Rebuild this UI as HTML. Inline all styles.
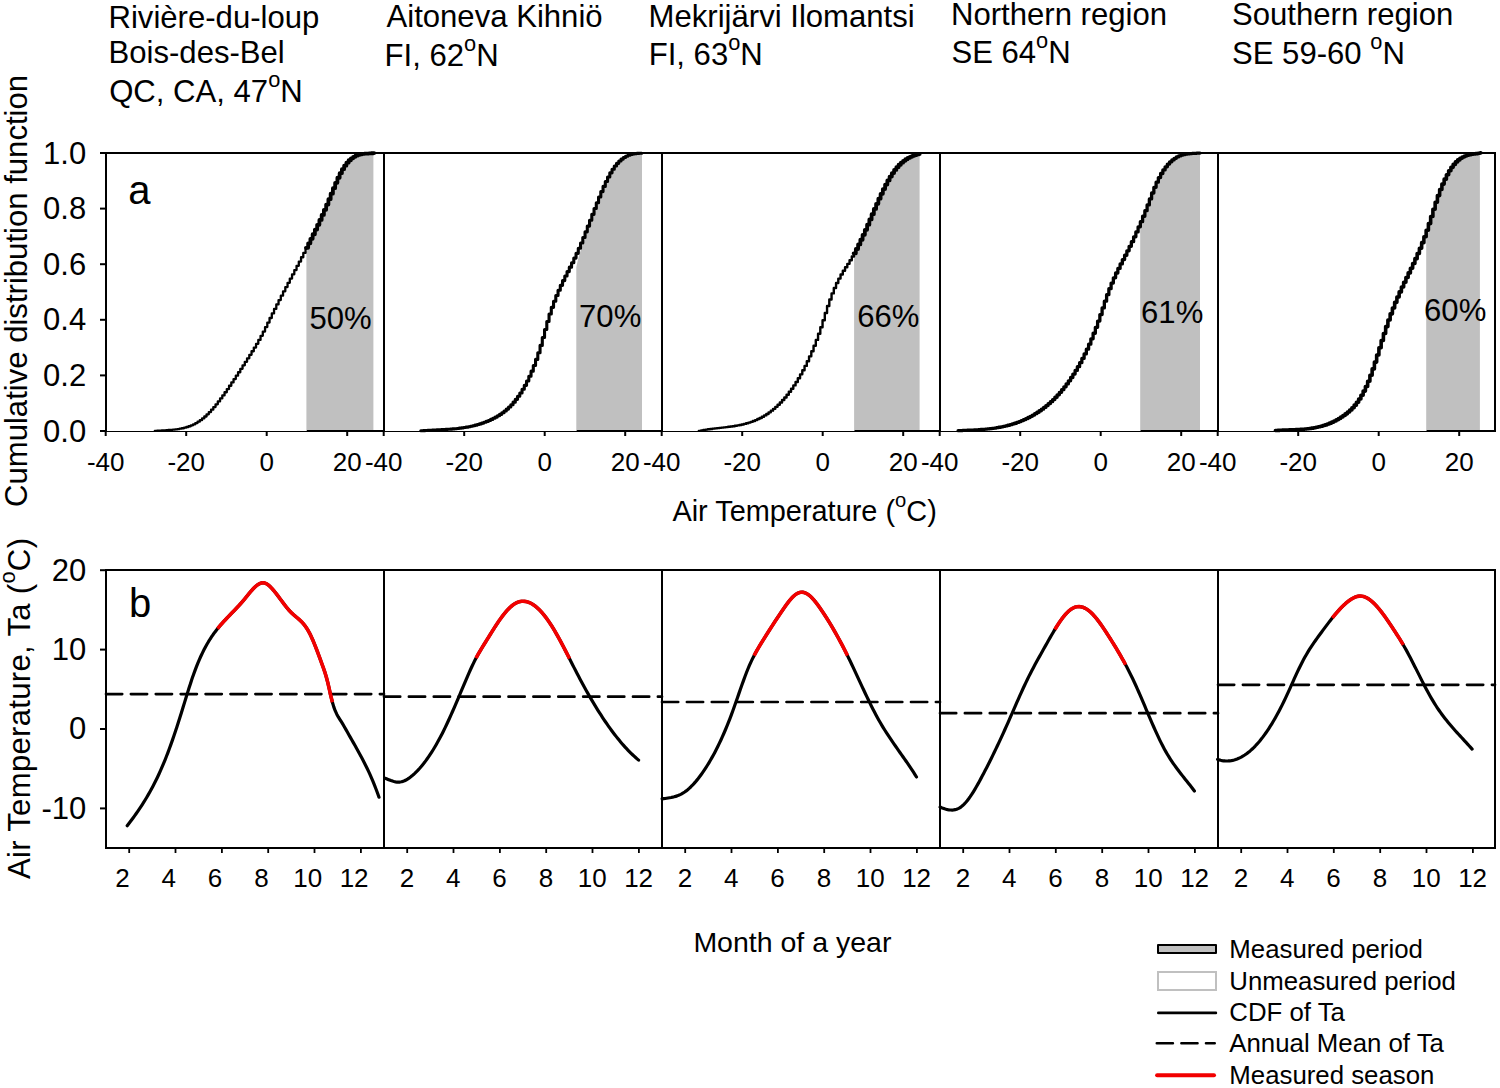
<!DOCTYPE html><html><head><meta charset="utf-8"><title>CDF and air temperature</title>
<style>html,body{margin:0;padding:0;background:#fff;width:1500px;height:1088px;overflow:hidden}svg{display:block}text{font-family:"Liberation Sans", sans-serif;fill:#000}</style></head><body>
<svg width="1500" height="1088" viewBox="0 0 1500 1088">
<rect x="0" y="0" width="1500" height="1088" fill="#fff"/>
<g>
<text x="108.5" y="27.8" font-size="31.1">Rivière-du-loup</text>
<text x="108.5" y="62.9" font-size="31.1">Bois-des-Bel</text>
<text x="109.2" y="102.0" font-size="31.1">QC, CA, 47<tspan font-size="21.8" dy="-15">o</tspan><tspan dy="15">N</tspan></text>
<text x="386.5" y="27.4" font-size="31.1">Aitoneva Kihniö</text>
<text x="384.5" y="65.6" font-size="31.1">FI, 62<tspan font-size="21.8" dy="-15">o</tspan><tspan dy="15">N</tspan></text>
<text x="648.6" y="27.3" font-size="31.1">Mekrijärvi Ilomantsi</text>
<text x="648.7" y="65.1" font-size="31.1">FI, 63<tspan font-size="21.8" dy="-15">o</tspan><tspan dy="15">N</tspan></text>
<text x="951" y="24.8" font-size="31.1">Northern region</text>
<text x="951.4" y="63.4" font-size="31.1">SE 64<tspan font-size="21.8" dy="-15">o</tspan><tspan dy="15">N</tspan></text>
<text x="1232" y="25.4" font-size="31.1">Southern region</text>
<text x="1232.0" y="64.0" font-size="31.1">SE 59-60 <tspan font-size="21.8" dy="-15">o</tspan><tspan dy="15">N</tspan></text>
</g>
<polygon fill="#c0c0c0" points="306.4,431.0 306.4,252.0 306.9,250.9 307.4,249.9 307.9,248.8 308.4,247.8 308.9,246.7 309.4,245.7 309.9,244.7 310.4,243.6 310.9,242.6 311.4,241.5 311.9,240.5 312.4,239.5 312.9,238.4 313.4,237.4 313.9,236.3 314.4,235.3 314.9,234.2 315.4,233.2 315.9,232.1 316.4,231.1 316.9,230.0 317.4,228.9 317.9,227.9 318.4,226.8 318.9,225.7 319.4,224.6 319.9,223.6 320.4,222.5 320.9,221.4 321.4,220.3 321.9,219.2 322.4,218.1 322.9,216.9 323.4,215.8 323.9,214.7 324.4,213.6 324.9,212.4 325.4,211.3 325.9,210.1 326.4,209.0 326.9,207.8 327.4,206.6 327.9,205.5 328.4,204.3 328.9,203.1 329.4,201.9 329.9,200.7 330.4,199.5 330.9,198.3 331.4,197.0 331.9,195.8 332.4,194.6 332.9,193.3 333.4,192.1 333.9,190.9 334.4,189.7 334.9,188.4 335.4,187.2 335.9,186.0 336.4,184.9 336.9,183.7 337.4,182.5 337.9,181.4 338.4,180.2 338.9,179.1 339.4,178.0 339.9,177.0 340.4,175.9 340.9,174.9 341.4,173.9 341.9,173.0 342.4,172.0 342.9,171.1 343.4,170.2 343.9,169.4 344.4,168.5 344.9,167.7 345.4,167.0 345.9,166.2 346.4,165.5 346.9,164.8 347.4,164.1 347.9,163.5 348.4,162.9 348.9,162.3 349.4,161.7 349.9,161.2 350.4,160.6 350.9,160.1 351.4,159.7 351.9,159.2 352.4,158.8 352.9,158.4 353.4,158.0 353.9,157.7 354.4,157.3 354.9,157.0 355.4,156.7 355.9,156.5 356.4,156.2 356.9,155.9 357.4,155.7 357.9,155.5 358.4,155.3 358.9,155.1 359.4,155.0 359.9,154.8 360.4,154.7 360.9,154.5 361.4,154.4 361.9,154.3 362.4,154.2 362.9,154.1 363.4,154.0 363.9,153.9 364.4,153.9 364.9,153.8 365.4,153.8 365.9,153.7 366.4,153.7 366.9,153.6 367.4,153.6 367.9,153.6 368.4,153.5 368.9,153.5 369.4,153.5 369.9,153.5 370.4,153.4 370.9,153.4 371.4,153.4 371.9,153.4 372.4,153.3 372.9,153.3 373.4,153.3 373.4,431.0"/>
<rect x="306.9" y="430" width="77.1" height="2" fill="#000"/>
<text x="340.5" y="328.6" font-size="31.1" text-anchor="middle">50%</text>
<polygon fill="#c0c0c0" points="576.3,431.0 576.3,267.2 576.8,264.7 577.3,262.5 577.8,260.4 578.3,258.4 578.8,256.5 579.3,254.8 579.8,253.1 580.3,251.5 580.8,250.0 581.3,248.4 581.8,247.0 582.3,245.5 582.8,244.1 583.3,242.7 583.8,241.3 584.3,239.9 584.8,238.6 585.3,237.2 585.8,235.9 586.3,234.5 586.8,233.2 587.3,231.9 587.8,230.5 588.3,229.2 588.8,227.9 589.3,226.6 589.8,225.2 590.3,223.9 590.8,222.6 591.3,221.3 591.8,220.0 592.3,218.6 592.8,217.3 593.3,216.0 593.8,214.7 594.3,213.4 594.8,212.1 595.3,210.8 595.8,209.5 596.3,208.2 596.8,206.9 597.3,205.6 597.8,204.3 598.3,203.0 598.8,201.7 599.3,200.5 599.8,199.2 600.3,198.0 600.8,196.8 601.3,195.5 601.8,194.3 602.3,193.1 602.8,191.9 603.3,190.7 603.8,189.6 604.3,188.4 604.8,187.3 605.3,186.1 605.8,185.0 606.3,183.9 606.8,182.8 607.3,181.8 607.8,180.7 608.3,179.7 608.8,178.7 609.3,177.7 609.8,176.7 610.3,175.8 610.8,174.9 611.3,174.0 611.8,173.1 612.3,172.2 612.8,171.4 613.3,170.6 613.8,169.8 614.3,169.0 614.8,168.3 615.3,167.6 615.8,166.9 616.3,166.2 616.8,165.6 617.3,165.0 617.8,164.3 618.3,163.8 618.8,163.2 619.3,162.7 619.8,162.1 620.3,161.6 620.8,161.2 621.3,160.7 621.8,160.2 622.3,159.8 622.8,159.4 623.3,159.0 623.8,158.6 624.3,158.3 624.8,157.9 625.3,157.6 625.8,157.3 626.3,157.0 626.8,156.7 627.3,156.5 627.8,156.2 628.3,156.0 628.8,155.7 629.3,155.5 629.8,155.3 630.3,155.1 630.8,155.0 631.3,154.8 631.8,154.6 632.3,154.5 632.8,154.4 633.3,154.2 633.8,154.1 634.3,154.0 634.8,153.9 635.3,153.8 635.8,153.7 636.3,153.7 636.8,153.6 637.3,153.5 637.8,153.5 638.3,153.4 638.8,153.4 639.3,153.4 639.8,153.3 640.3,153.3 640.8,153.3 641.3,153.3 641.8,153.2 642.0,153.2 642.0,431.0"/>
<rect x="576.8" y="430" width="85.2" height="2" fill="#000"/>
<text x="610.2" y="327.2" font-size="31.1" text-anchor="middle">70%</text>
<polygon fill="#c0c0c0" points="854.1,431.0 854.1,258.8 854.6,257.7 855.1,256.7 855.6,255.6 856.1,254.6 856.6,253.5 857.1,252.4 857.6,251.3 858.1,250.3 858.6,249.2 859.1,248.1 859.6,247.0 860.1,245.9 860.6,244.7 861.1,243.6 861.6,242.5 862.1,241.4 862.6,240.2 863.1,239.1 863.6,238.0 864.1,236.8 864.6,235.7 865.1,234.5 865.6,233.4 866.1,232.2 866.6,231.0 867.1,229.9 867.6,228.7 868.1,227.5 868.6,226.4 869.1,225.2 869.6,224.0 870.1,222.8 870.6,221.7 871.1,220.5 871.6,219.3 872.1,218.1 872.6,217.0 873.1,215.8 873.6,214.6 874.1,213.4 874.6,212.3 875.1,211.1 875.6,209.9 876.1,208.7 876.6,207.6 877.1,206.4 877.6,205.3 878.1,204.1 878.6,203.0 879.1,201.8 879.6,200.7 880.1,199.6 880.6,198.5 881.1,197.4 881.6,196.3 882.1,195.2 882.6,194.1 883.1,193.0 883.6,192.0 884.1,190.9 884.6,189.9 885.1,188.8 885.6,187.8 886.1,186.8 886.6,185.8 887.1,184.8 887.6,183.9 888.1,182.9 888.6,182.0 889.1,181.1 889.6,180.2 890.1,179.3 890.6,178.4 891.1,177.6 891.6,176.7 892.1,175.9 892.6,175.1 893.1,174.4 893.6,173.6 894.1,172.9 894.6,172.1 895.1,171.4 895.6,170.8 896.1,170.1 896.6,169.4 897.1,168.8 897.6,168.2 898.1,167.6 898.6,167.0 899.1,166.5 899.6,165.9 900.1,165.4 900.6,164.9 901.1,164.4 901.6,163.9 902.1,163.4 902.6,163.0 903.1,162.5 903.6,162.1 904.1,161.7 904.6,161.3 905.1,160.9 905.6,160.6 906.1,160.2 906.6,159.8 907.1,159.5 907.6,159.2 908.1,158.9 908.6,158.6 909.1,158.3 909.6,158.0 910.1,157.7 910.6,157.5 911.1,157.2 911.6,157.0 912.1,156.7 912.6,156.5 913.1,156.3 913.6,156.1 914.1,155.9 914.6,155.7 915.1,155.5 915.6,155.4 916.1,155.2 916.6,155.0 917.1,154.9 917.6,154.7 918.1,154.6 918.6,154.4 919.1,154.3 919.6,154.2 919.6,431.0"/>
<rect x="854.6" y="430" width="85.4" height="2" fill="#000"/>
<text x="888.4" y="327.0" font-size="31.1" text-anchor="middle">66%</text>
<polygon fill="#c0c0c0" points="1140.2,431.0 1140.2,224.6 1140.7,223.6 1141.2,222.6 1141.7,221.6 1142.2,220.6 1142.7,219.5 1143.2,218.5 1143.7,217.4 1144.2,216.3 1144.7,215.2 1145.2,214.0 1145.7,212.9 1146.2,211.7 1146.7,210.6 1147.2,209.4 1147.7,208.1 1148.2,206.9 1148.7,205.7 1149.2,204.4 1149.7,203.1 1150.2,201.9 1150.7,200.6 1151.2,199.3 1151.7,198.0 1152.2,196.7 1152.7,195.4 1153.2,194.1 1153.7,192.8 1154.2,191.5 1154.7,190.3 1155.2,189.0 1155.7,187.8 1156.2,186.6 1156.7,185.4 1157.2,184.3 1157.7,183.2 1158.2,182.1 1158.7,181.1 1159.2,180.0 1159.7,179.0 1160.2,178.0 1160.7,177.1 1161.2,176.1 1161.7,175.2 1162.2,174.4 1162.7,173.5 1163.2,172.7 1163.7,171.9 1164.2,171.1 1164.7,170.3 1165.2,169.6 1165.7,168.9 1166.2,168.2 1166.7,167.5 1167.2,166.8 1167.7,166.2 1168.2,165.6 1168.7,165.0 1169.2,164.4 1169.7,163.9 1170.2,163.3 1170.7,162.8 1171.2,162.3 1171.7,161.8 1172.2,161.4 1172.7,160.9 1173.2,160.5 1173.7,160.1 1174.2,159.7 1174.7,159.3 1175.2,159.0 1175.7,158.6 1176.2,158.3 1176.7,158.0 1177.2,157.7 1177.7,157.4 1178.2,157.1 1178.7,156.9 1179.2,156.6 1179.7,156.4 1180.2,156.1 1180.7,155.9 1181.2,155.7 1181.7,155.5 1182.2,155.4 1182.7,155.2 1183.2,155.0 1183.7,154.9 1184.2,154.8 1184.7,154.6 1185.2,154.5 1185.7,154.4 1186.2,154.3 1186.7,154.2 1187.2,154.1 1187.7,154.0 1188.2,153.9 1188.7,153.9 1189.2,153.8 1189.7,153.7 1190.2,153.7 1190.7,153.6 1191.2,153.6 1191.7,153.6 1192.2,153.5 1192.7,153.5 1193.2,153.4 1193.7,153.4 1194.2,153.4 1194.7,153.4 1195.2,153.3 1195.7,153.3 1196.2,153.3 1196.7,153.3 1197.2,153.3 1197.7,153.2 1198.2,153.2 1198.7,153.2 1199.2,153.2 1199.7,153.1 1200.0,153.1 1200.0,431.0"/>
<rect x="1140.7" y="430" width="77.3" height="2" fill="#000"/>
<text x="1172.2" y="323.1" font-size="31.1" text-anchor="middle">61%</text>
<polygon fill="#c0c0c0" points="1426.2,431.0 1426.2,238.9 1426.7,237.3 1427.2,235.8 1427.7,234.2 1428.2,232.6 1428.7,231.0 1429.2,229.4 1429.7,227.8 1430.2,226.1 1430.7,224.5 1431.2,222.8 1431.7,221.2 1432.2,219.5 1432.7,217.8 1433.2,216.1 1433.7,214.4 1434.2,212.7 1434.7,211.1 1435.2,209.4 1435.7,207.7 1436.2,206.1 1436.7,204.5 1437.2,202.9 1437.7,201.3 1438.2,199.8 1438.7,198.3 1439.2,196.8 1439.7,195.4 1440.2,194.0 1440.7,192.6 1441.2,191.3 1441.7,189.9 1442.2,188.7 1442.7,187.4 1443.2,186.2 1443.7,185.0 1444.2,183.8 1444.7,182.6 1445.2,181.5 1445.7,180.4 1446.2,179.4 1446.7,178.3 1447.2,177.3 1447.7,176.3 1448.2,175.4 1448.7,174.4 1449.2,173.5 1449.7,172.6 1450.2,171.8 1450.7,170.9 1451.2,170.1 1451.7,169.3 1452.2,168.6 1452.7,167.8 1453.2,167.1 1453.7,166.4 1454.2,165.8 1454.7,165.1 1455.2,164.5 1455.7,163.9 1456.2,163.3 1456.7,162.8 1457.2,162.3 1457.7,161.8 1458.2,161.3 1458.7,160.8 1459.2,160.4 1459.7,160.0 1460.2,159.6 1460.7,159.2 1461.2,158.8 1461.7,158.5 1462.2,158.2 1462.7,157.9 1463.2,157.6 1463.7,157.3 1464.2,157.0 1464.7,156.8 1465.2,156.6 1465.7,156.3 1466.2,156.1 1466.7,156.0 1467.2,155.8 1467.7,155.6 1468.2,155.5 1468.7,155.3 1469.2,155.2 1469.7,155.0 1470.2,154.9 1470.7,154.8 1471.2,154.7 1471.7,154.6 1472.2,154.5 1472.7,154.4 1473.2,154.3 1473.7,154.2 1474.2,154.2 1474.7,154.1 1475.2,154.0 1475.7,153.9 1476.2,153.9 1476.7,153.8 1477.2,153.7 1477.7,153.6 1478.2,153.6 1478.7,153.5 1479.2,153.4 1479.7,153.3 1479.9,153.3 1479.9,431.0"/>
<rect x="1426.7" y="430" width="68.3" height="2" fill="#000"/>
<text x="1455.2" y="321.0" font-size="31.1" text-anchor="middle">60%</text>
<g stroke="#000" fill="none">
<line x1="105" y1="431.5" x2="1496" y2="431.5" stroke-width="1"/>
<line x1="100" y1="153" x2="1496" y2="153" stroke-width="2"/>
<line x1="106" y1="152" x2="106" y2="432" stroke-width="2"/>
<line x1="384" y1="152" x2="384" y2="432" stroke-width="2"/>
<line x1="662" y1="152" x2="662" y2="432" stroke-width="2"/>
<line x1="940" y1="152" x2="940" y2="432" stroke-width="2"/>
<line x1="1218" y1="152" x2="1218" y2="432" stroke-width="2"/>
<line x1="1495" y1="152" x2="1495" y2="432" stroke-width="2"/>
<line x1="100" y1="431.0" x2="106" y2="431.0" stroke-width="2"/>
<line x1="100" y1="375.4" x2="106" y2="375.4" stroke-width="2"/>
<line x1="100" y1="319.8" x2="106" y2="319.8" stroke-width="2"/>
<line x1="100" y1="264.2" x2="106" y2="264.2" stroke-width="2"/>
<line x1="100" y1="208.6" x2="106" y2="208.6" stroke-width="2"/>
<line x1="100" y1="153.0" x2="106" y2="153.0" stroke-width="2"/>
<line x1="105.7" y1="431" x2="105.7" y2="436" stroke-width="2"/>
<line x1="186.2" y1="431" x2="186.2" y2="436" stroke-width="2"/>
<line x1="266.7" y1="431" x2="266.7" y2="436" stroke-width="2"/>
<line x1="347.2" y1="431" x2="347.2" y2="436" stroke-width="2"/>
<line x1="383.7" y1="431" x2="383.7" y2="436" stroke-width="2"/>
<line x1="464.2" y1="431" x2="464.2" y2="436" stroke-width="2"/>
<line x1="544.7" y1="431" x2="544.7" y2="436" stroke-width="2"/>
<line x1="625.2" y1="431" x2="625.2" y2="436" stroke-width="2"/>
<line x1="661.7" y1="431" x2="661.7" y2="436" stroke-width="2"/>
<line x1="742.2" y1="431" x2="742.2" y2="436" stroke-width="2"/>
<line x1="822.7" y1="431" x2="822.7" y2="436" stroke-width="2"/>
<line x1="903.2" y1="431" x2="903.2" y2="436" stroke-width="2"/>
<line x1="939.7" y1="431" x2="939.7" y2="436" stroke-width="2"/>
<line x1="1020.2" y1="431" x2="1020.2" y2="436" stroke-width="2"/>
<line x1="1100.7" y1="431" x2="1100.7" y2="436" stroke-width="2"/>
<line x1="1181.2" y1="431" x2="1181.2" y2="436" stroke-width="2"/>
<line x1="1217.7" y1="431" x2="1217.7" y2="436" stroke-width="2"/>
<line x1="1298.2" y1="431" x2="1298.2" y2="436" stroke-width="2"/>
<line x1="1378.7" y1="431" x2="1378.7" y2="436" stroke-width="2"/>
<line x1="1459.2" y1="431" x2="1459.2" y2="436" stroke-width="2"/>
</g>
<path d="M154.80,430.96H157.05V430.75H159.30V430.58H161.55V430.42H163.80V430.29H166.05V430.15H168.30V430.00H170.55V429.83H172.80V429.63H175.05V429.38H177.30V429.07H179.55V428.69H181.80V428.23H184.05V427.68H186.30V427.02H188.55V426.24H190.80V425.33H193.05V424.28H195.30V423.07H197.55V421.70H199.80V420.16H202.05V418.42H204.30V416.48H206.55V414.37H208.80V412.08H211.05V409.63H213.30V407.03H215.55V404.29H217.80V401.44H220.05V398.47H222.30V395.41H224.55V392.26H226.80V389.03H229.05V385.75H231.30V382.42H233.55V379.05H235.80V375.66H238.05V372.24H240.30V368.80H242.55V365.34H244.80V361.85H247.05V358.34H249.30V354.80H251.55V351.23H253.80V347.60H256.05V343.85H258.30V339.95H260.55V335.86H262.80V331.56H265.05V327.11H267.30V322.57H269.55V318.00H271.80V313.45H274.05V308.93H276.30V304.45H278.55V300.03H280.80V295.66H283.05V291.33H285.30V287.04H287.55V282.78H289.80V278.53H292.05V274.29H294.30V270.05H296.55V265.80H298.80V261.53H301.05V257.23H303.30V252.89H305.55V249.04H306.40" fill="none" stroke="#000" stroke-width="2.3" stroke-linejoin="round" stroke-linecap="round"/>
<path d="M305.90,247.81H308.15V243.36H310.40V238.84H312.65V234.24H314.90V229.56H317.15V224.78H319.40V219.90H321.65V214.91H323.90V209.79H326.15V204.54H328.40V199.15H330.65V193.64H332.90V188.14H335.15V182.80H337.40V177.77H339.65V173.20H341.90V169.16H344.15V165.66H346.40V162.70H348.65V160.26H350.90V158.32H353.15V156.80H355.40V155.66H357.65V154.83H359.90V154.26H362.15V153.90H364.40V153.67H366.65V153.53H368.90V153.41H371.15V153.26H373.40V153.07H374.20" fill="none" stroke="#000" stroke-width="3.8" stroke-linejoin="round" stroke-linecap="round"/>
<path d="M420.80,430.77H423.05V430.61H425.30V430.47H427.55V430.34H429.80V430.22H432.05V430.10H434.30V429.99H436.55V429.89H438.80V429.78H441.05V429.66H443.30V429.54H445.55V429.40H447.80V429.25H450.05V429.08H452.30V428.89H454.55V428.68H456.80V428.44H459.05V428.17H461.30V427.86H463.55V427.52H465.80V427.14H468.05V426.71H470.30V426.24H472.55V425.72H474.80V425.15H477.05V424.52H479.30V423.83H481.55V423.08H483.80V422.27H486.05V421.38H488.30V420.43H490.55V419.40H492.80V418.29H495.05V417.09H497.30V415.78H499.55V414.35H501.80V412.77H504.05V411.03H506.30V409.12H508.55V407.01H510.80V404.69H513.05V402.14H515.30V399.34H517.55V396.29H519.80V392.95H522.05V389.32H524.30V385.36H526.55V381.04H528.80V376.32H531.05V371.16H533.30V365.53H535.55V359.39H537.80V352.70H540.05V345.42H542.30V337.57H544.55V329.45H546.80V321.48H549.05V314.06H551.30V307.34H553.55V301.23H555.80V295.57H558.05V290.30H560.30V285.33H562.55V280.61H564.80V276.05H567.05V271.59H569.30V267.16H571.55V262.68H573.80V258.10H576.05V253.34H578.30V248.32H580.55V243.04H582.80V237.54H585.05V231.87H587.30V226.08H589.55V220.21H591.80V214.33H594.05V208.47H596.30V202.69H598.55V197.06H600.80V191.61H603.05V186.41H605.30V181.52H607.55V176.99H609.80V172.87H612.05V169.23H614.30V166.06H616.55V163.34H618.80V161.04H621.05V159.11H623.30V157.54H625.55V156.27H627.80V155.28H630.05V154.53H632.30V153.99H634.55V153.62H636.80V153.39H639.05V153.27H641.30V153.22H641.70" fill="none" stroke="#000" stroke-width="3.1" stroke-linejoin="round" stroke-linecap="round"/>
<path d="M698.80,430.91H701.05V430.44H703.30V430.01H705.55V429.62H707.80V429.27H710.05V428.95H712.30V428.66H714.55V428.39H716.80V428.13H719.05V427.87H721.30V427.62H723.55V427.37H725.80V427.10H728.05V426.82H730.30V426.52H732.55V426.19H734.80V425.82H737.05V425.42H739.30V424.97H741.55V424.47H743.80V423.92H746.05V423.30H748.30V422.61H750.55V421.85H752.80V421.01H755.05V420.08H757.30V419.06H759.55V417.94H761.80V416.71H764.05V415.38H766.30V413.93H768.55V412.36H770.80V410.67H773.05V408.84H775.30V406.87H777.55V404.76H779.80V402.49H782.05V400.07H784.30V397.49H786.55V394.74H788.80V391.81H791.05V388.70H793.30V385.41H795.55V381.93H797.80V378.25H800.05V374.35H802.30V370.24H804.55V365.88H806.80V361.26H809.05V356.37H811.30V351.19H813.55V345.71H815.80V339.90H818.05V333.75H820.30V327.21H822.55V320.21H824.80V313.02H827.05V306.05H829.30V299.47H831.55V293.42H833.80V287.96H836.05V283.04H838.30V278.58H840.55V274.52H842.80V270.80H845.05V267.29H847.30V263.84H849.55V260.31H851.80V256.53H854.05V254.44H854.10" fill="none" stroke="#000" stroke-width="2.4" stroke-linejoin="round" stroke-linecap="round"/>
<path d="M853.60,253.29H855.85V249.00H858.10V244.47H860.35V239.73H862.60V234.82H864.85V229.78H867.10V224.63H869.35V219.42H871.60V214.18H873.85V208.95H876.10V203.78H878.35V198.71H880.60V193.79H882.85V189.07H885.10V184.59H887.35V180.39H889.60V176.53H891.85V173.04H894.10V169.93H896.35V167.18H898.60V164.76H900.85V162.66H903.10V160.83H905.35V159.27H907.60V157.93H909.85V156.80H912.10V155.86H914.35V155.06H916.60V154.40H918.85V153.91H919.70" fill="none" stroke="#000" stroke-width="3.8" stroke-linejoin="round" stroke-linecap="round"/>
<path d="M958.10,430.65H960.35V430.55H962.60V430.46H964.85V430.36H967.10V430.27H969.35V430.17H971.60V430.06H973.85V429.95H976.10V429.82H978.35V429.67H980.60V429.51H982.85V429.33H985.10V429.12H987.35V428.89H989.60V428.64H991.85V428.35H994.10V428.03H996.35V427.67H998.60V427.27H1000.85V426.84H1003.10V426.36H1005.35V425.83H1007.60V425.26H1009.85V424.64H1012.10V423.96H1014.35V423.23H1016.60V422.44H1018.85V421.58H1021.10V420.67H1023.35V419.68H1025.60V418.63H1027.85V417.51H1030.10V416.31H1032.35V415.04H1034.60V413.69H1036.85V412.26H1039.10V410.74H1041.35V409.13H1043.60V407.42H1045.85V405.62H1048.10V403.70H1050.35V401.68H1052.60V399.53H1054.85V397.27H1057.10V394.87H1059.35V392.35H1061.60V389.68H1063.85V386.87H1066.10V383.91H1068.35V380.80H1070.60V377.52H1072.85V374.08H1075.10V370.46H1077.35V366.65H1079.60V362.64H1081.85V358.39H1084.10V353.91H1086.35V349.17H1088.60V344.16H1090.85V338.85H1093.10V333.24H1095.35V327.32H1097.60V321.10H1099.85V314.61H1102.10V307.88H1104.35V301.13H1106.60V294.67H1108.85V288.64H1111.10V283.05H1113.35V277.87H1115.60V273.01H1117.85V268.39H1120.10V263.95H1122.35V259.60H1124.60V255.27H1126.85V250.87H1129.10V246.34H1131.35V241.67H1133.60V236.85H1135.85V231.91H1138.10V226.84H1140.35V221.63H1142.60V216.27H1144.85V210.71H1147.10V204.93H1149.35V198.95H1151.60V192.99H1153.85V187.32H1156.10V182.16H1158.35V177.57H1160.60V173.50H1162.85V169.92H1165.10V166.81H1167.35V164.11H1169.60V161.82H1171.85V159.88H1174.10V158.28H1176.35V156.97H1178.60V155.92H1180.85V155.11H1183.10V154.50H1185.35V154.05H1187.60V153.74H1189.85V153.53H1192.10V153.39H1194.35V153.29H1196.60V153.19H1198.85V153.06H1200.00" fill="none" stroke="#000" stroke-width="3.3" stroke-linejoin="round" stroke-linecap="round"/>
<path d="M1275.40,430.46H1277.65V430.33H1279.90V430.23H1282.15V430.13H1284.40V430.05H1286.65V429.98H1288.90V429.91H1291.15V429.83H1293.40V429.75H1295.65V429.65H1297.90V429.53H1300.15V429.39H1302.40V429.22H1304.65V429.01H1306.90V428.77H1309.15V428.48H1311.40V428.15H1313.65V427.76H1315.90V427.31H1318.15V426.80H1320.40V426.22H1322.65V425.56H1324.90V424.83H1327.15V424.01H1329.40V423.10H1331.65V422.10H1333.90V421.00H1336.15V419.80H1338.40V418.49H1340.65V417.06H1342.90V415.52H1345.15V413.85H1347.40V412.02H1349.65V410.00H1351.90V407.73H1354.15V405.17H1356.40V402.28H1358.65V399.00H1360.90V395.30H1363.15V391.12H1365.40V386.43H1367.65V381.18H1369.90V375.32H1372.15V368.92H1374.40V362.10H1376.65V355.01H1378.90V347.78H1381.15V340.54H1383.40V333.43H1385.65V326.59H1387.90V320.07H1390.15V313.87H1392.40V307.97H1394.65V302.36H1396.90V297.00H1399.15V291.89H1401.40V286.98H1403.65V282.21H1405.90V277.54H1408.15V272.90H1410.40V268.24H1412.65V263.50H1414.90V258.63H1417.15V253.57H1419.40V248.26H1421.65V242.65H1423.90V236.68H1426.15V230.32H1428.40V223.58H1430.65V216.48H1432.90V209.24H1435.15V202.18H1437.40V195.59H1439.65V189.56H1441.90V184.08H1444.15V179.13H1446.40V174.70H1448.65V170.78H1450.90V167.35H1453.15V164.40H1455.40V161.92H1457.65V159.89H1459.90V158.26H1462.15V156.99H1464.40V156.02H1466.65V155.28H1468.90V154.73H1471.15V154.31H1473.40V153.96H1475.65V153.63H1477.90V153.26H1480.15V152.90H1480.80" fill="none" stroke="#000" stroke-width="3.6" stroke-linejoin="round" stroke-linecap="round"/>
<text x="128.3" y="203.5" font-size="40">a</text>
<text x="86.2" y="441.6" font-size="31" text-anchor="end">0.0</text>
<text x="86.2" y="386.0" font-size="31" text-anchor="end">0.2</text>
<text x="86.2" y="330.4" font-size="31" text-anchor="end">0.4</text>
<text x="86.2" y="274.8" font-size="31" text-anchor="end">0.6</text>
<text x="86.2" y="219.2" font-size="31" text-anchor="end">0.8</text>
<text x="86.2" y="163.6" font-size="31" text-anchor="end">1.0</text>
<text x="105.7" y="470.6" font-size="26" text-anchor="middle">-40</text>
<text x="186.2" y="470.6" font-size="26" text-anchor="middle">-20</text>
<text x="266.7" y="470.6" font-size="26" text-anchor="middle">0</text>
<text x="347.2" y="470.6" font-size="26" text-anchor="middle">20</text>
<text x="383.7" y="470.6" font-size="26" text-anchor="middle">-40</text>
<text x="464.2" y="470.6" font-size="26" text-anchor="middle">-20</text>
<text x="544.7" y="470.6" font-size="26" text-anchor="middle">0</text>
<text x="625.2" y="470.6" font-size="26" text-anchor="middle">20</text>
<text x="661.7" y="470.6" font-size="26" text-anchor="middle">-40</text>
<text x="742.2" y="470.6" font-size="26" text-anchor="middle">-20</text>
<text x="822.7" y="470.6" font-size="26" text-anchor="middle">0</text>
<text x="903.2" y="470.6" font-size="26" text-anchor="middle">20</text>
<text x="939.7" y="470.6" font-size="26" text-anchor="middle">-40</text>
<text x="1020.2" y="470.6" font-size="26" text-anchor="middle">-20</text>
<text x="1100.7" y="470.6" font-size="26" text-anchor="middle">0</text>
<text x="1181.2" y="470.6" font-size="26" text-anchor="middle">20</text>
<text x="1217.7" y="470.6" font-size="26" text-anchor="middle">-40</text>
<text x="1298.2" y="470.6" font-size="26" text-anchor="middle">-20</text>
<text x="1378.7" y="470.6" font-size="26" text-anchor="middle">0</text>
<text x="1459.2" y="470.6" font-size="26" text-anchor="middle">20</text>
<text x="804.6" y="520.6" font-size="28.9" text-anchor="middle">Air Temperature (<tspan font-size="20.2" dy="-14">o</tspan><tspan dy="14">C)</tspan></text>
<text transform="translate(26.6,507) rotate(-90)" font-size="31.1">Cumulative distribution function</text>
<line x1="106" y1="694.1" x2="384" y2="694.1" stroke="#000" stroke-width="2.7" stroke-linecap="round" stroke-dasharray="16.2 8.7"/>
<path d="M127.20,825.76 L128.71,823.79 L130.22,821.79 L131.72,819.77 L133.23,817.73 L134.74,815.64 L136.25,813.52 L137.75,811.36 L139.26,809.15 L140.77,806.89 L142.28,804.58 L143.79,802.20 L145.29,799.76 L146.80,797.25 L148.31,794.67 L149.82,792.02 L151.32,789.28 L152.83,786.45 L154.34,783.54 L155.85,780.53 L157.36,777.43 L158.86,774.22 L160.37,770.91 L161.88,767.48 L163.39,763.94 L164.89,760.28 L166.40,756.49 L167.91,752.58 L169.42,748.55 L170.93,744.41 L172.43,740.15 L173.94,735.79 L175.45,731.32 L176.96,726.74 L178.46,722.07 L179.97,717.31 L181.48,712.46 L182.99,707.56 L184.50,702.63 L186.00,697.72 L187.51,692.86 L189.02,688.07 L190.53,683.39 L192.03,678.85 L193.54,674.49 L195.05,670.34 L196.56,666.39 L198.07,662.66 L199.57,659.12 L201.08,655.76 L202.59,652.58 L204.10,649.57 L205.60,646.72 L207.11,644.02 L208.62,641.46 L210.13,639.03 L211.64,636.72 L213.14,634.53 L214.65,632.43 L216.16,630.44 L217.67,628.52 L219.17,626.68 L220.68,624.91 L222.19,623.20 L223.70,621.53 L225.21,619.91 L226.71,618.31 L228.22,616.74 L229.73,615.18 L231.24,613.62 L232.74,612.07 L234.25,610.52 L235.76,608.94 L237.27,607.35 L238.78,605.73 L240.28,604.07 L241.79,602.37 L243.30,600.62 L244.81,598.81 L246.31,596.95 L247.82,595.08 L249.33,593.23 L250.84,591.42 L252.35,589.70 L253.85,588.09 L255.36,586.63 L256.87,585.35 L258.38,584.29 L259.89,583.47 L261.39,582.95 L262.90,582.75 L264.41,582.91 L265.92,583.46 L267.42,584.34 L268.93,585.51 L270.44,586.92 L271.95,588.50 L273.46,590.22 L274.96,592.05 L276.47,593.97 L277.98,595.95 L279.49,597.97 L280.99,600.01 L282.50,602.04 L284.01,604.05 L285.52,606.01 L287.03,607.89 L288.53,609.67 L290.04,611.34 L291.55,612.86 L293.06,614.26 L294.56,615.58 L296.07,616.85 L297.58,618.13 L299.09,619.44 L300.60,620.84 L302.10,622.36 L303.61,624.06 L305.12,625.95 L306.63,628.10 L308.13,630.54 L309.64,633.31 L311.15,636.39 L312.66,639.74 L314.17,643.33 L315.67,647.10 L317.18,651.02 L318.69,655.06 L320.20,659.15 L321.70,663.28 L323.21,667.44 L324.72,671.84 L326.23,676.75 L327.74,682.40 L329.24,688.87 L330.75,695.55 L332.26,701.74 L333.77,706.86 L335.27,710.93 L336.78,714.20 L338.29,716.93 L339.80,719.36 L341.31,721.73 L342.81,724.19 L344.32,726.74 L345.83,729.35 L347.34,732.00 L348.84,734.67 L350.35,737.34 L351.86,740.00 L353.37,742.65 L354.88,745.31 L356.38,747.98 L357.89,750.67 L359.40,753.40 L360.91,756.18 L362.41,759.02 L363.92,761.92 L365.43,764.91 L366.94,767.99 L368.45,771.17 L369.95,774.46 L371.46,777.88 L372.97,781.43 L374.48,785.13 L375.98,788.98 L377.49,793.01 L379.00,797.21" fill="none" stroke="#000" stroke-width="3.2" stroke-linejoin="round" stroke-linecap="round"/>
<path d="M217.50,628.73 L217.67,628.52 L219.17,626.68 L220.68,624.91 L222.19,623.20 L223.70,621.53 L225.21,619.91 L226.71,618.31 L228.22,616.74 L229.73,615.18 L231.24,613.62 L232.74,612.07 L234.25,610.52 L235.76,608.94 L237.27,607.35 L238.78,605.73 L240.28,604.07 L241.79,602.37 L243.30,600.62 L244.81,598.81 L246.31,596.95 L247.82,595.08 L249.33,593.23 L250.84,591.42 L252.35,589.70 L253.85,588.09 L255.36,586.63 L256.87,585.35 L258.38,584.29 L259.89,583.47 L261.39,582.95 L262.90,582.75 L264.41,582.91 L265.92,583.46 L267.42,584.34 L268.93,585.51 L270.44,586.92 L271.95,588.50 L273.46,590.22 L274.96,592.05 L276.47,593.97 L277.98,595.95 L279.49,597.97 L280.99,600.01 L282.50,602.04 L284.01,604.05 L285.52,606.01 L287.03,607.89 L288.53,609.67 L290.04,611.34 L291.55,612.86 L293.06,614.26 L294.56,615.58 L296.07,616.85 L297.58,618.13 L299.09,619.44 L300.60,620.84 L302.10,622.36 L303.61,624.06 L305.12,625.95 L306.63,628.10 L308.13,630.54 L309.64,633.31 L311.15,636.39 L312.66,639.74 L314.17,643.33 L315.67,647.10 L317.18,651.02 L318.69,655.06 L320.20,659.15 L321.70,663.28 L323.21,667.44 L324.72,671.84 L326.23,676.75 L327.74,682.40 L329.24,688.87 L330.75,695.55 L332.26,701.74 L332.40,702.27" fill="none" stroke="#f20000" stroke-width="3.6" stroke-linejoin="round"/>
<line x1="384" y1="696.7" x2="662" y2="696.7" stroke="#000" stroke-width="2.7" stroke-linecap="round" stroke-dasharray="16.2 8.7"/>
<path d="M385.00,778.23 L386.50,778.82 L388.00,779.42 L389.50,780.01 L391.00,780.57 L392.50,781.08 L394.00,781.51 L395.50,781.85 L397.00,782.06 L398.51,782.13 L400.01,782.03 L401.51,781.77 L403.01,781.34 L404.51,780.75 L406.01,780.02 L407.51,779.16 L409.01,778.18 L410.51,777.07 L412.01,775.86 L413.51,774.56 L415.01,773.16 L416.51,771.69 L418.01,770.13 L419.51,768.49 L421.01,766.77 L422.51,764.96 L424.02,763.07 L425.52,761.10 L427.02,759.04 L428.52,756.90 L430.02,754.68 L431.52,752.38 L433.02,749.99 L434.52,747.52 L436.02,744.96 L437.52,742.33 L439.02,739.60 L440.52,736.80 L442.02,733.91 L443.52,730.93 L445.02,727.88 L446.52,724.74 L448.02,721.52 L449.53,718.24 L451.03,714.90 L452.53,711.50 L454.03,708.06 L455.53,704.59 L457.03,701.08 L458.53,697.55 L460.03,694.00 L461.53,690.45 L463.03,686.90 L464.53,683.35 L466.03,679.82 L467.53,676.33 L469.03,672.88 L470.53,669.51 L472.03,666.23 L473.53,663.06 L475.04,660.03 L476.54,657.15 L478.04,654.43 L479.54,651.83 L481.04,649.32 L482.54,646.88 L484.04,644.47 L485.54,642.07 L487.04,639.66 L488.54,637.23 L490.04,634.81 L491.54,632.40 L493.04,630.00 L494.54,627.64 L496.04,625.32 L497.54,623.05 L499.04,620.84 L500.55,618.70 L502.05,616.64 L503.55,614.67 L505.05,612.80 L506.55,611.03 L508.05,609.39 L509.55,607.87 L511.05,606.49 L512.55,605.25 L514.05,604.17 L515.55,603.26 L517.05,602.52 L518.55,601.96 L520.05,601.56 L521.55,601.32 L523.05,601.25 L524.56,601.33 L526.06,601.56 L527.56,601.95 L529.06,602.48 L530.56,603.15 L532.06,603.97 L533.56,604.92 L535.06,606.00 L536.56,607.22 L538.06,608.56 L539.56,610.02 L541.06,611.60 L542.56,613.30 L544.06,615.11 L545.56,617.03 L547.06,619.06 L548.56,621.19 L550.07,623.42 L551.57,625.74 L553.07,628.15 L554.57,630.65 L556.07,633.23 L557.57,635.88 L559.07,638.59 L560.57,641.36 L562.07,644.18 L563.57,647.03 L565.07,649.93 L566.57,652.85 L568.07,655.79 L569.57,658.74 L571.07,661.70 L572.57,664.66 L574.07,667.61 L575.58,670.54 L577.08,673.45 L578.58,676.33 L580.08,679.17 L581.58,681.98 L583.08,684.76 L584.58,687.50 L586.08,690.21 L587.58,692.88 L589.08,695.51 L590.58,698.11 L592.08,700.67 L593.58,703.19 L595.08,705.67 L596.58,708.12 L598.08,710.53 L599.58,712.90 L601.09,715.24 L602.59,717.53 L604.09,719.79 L605.59,722.00 L607.09,724.18 L608.59,726.31 L610.09,728.41 L611.59,730.46 L613.09,732.48 L614.59,734.45 L616.09,736.38 L617.59,738.27 L619.09,740.11 L620.59,741.91 L622.09,743.67 L623.59,745.39 L625.09,747.06 L626.60,748.69 L628.10,750.28 L629.60,751.82 L631.10,753.31 L632.60,754.76 L634.10,756.17 L635.60,757.53 L637.10,758.84 L638.60,760.11" fill="none" stroke="#000" stroke-width="3.2" stroke-linejoin="round" stroke-linecap="round"/>
<path d="M476.00,658.16 L476.54,657.15 L478.04,654.43 L479.54,651.83 L481.04,649.32 L482.54,646.88 L484.04,644.47 L485.54,642.07 L487.04,639.66 L488.54,637.23 L490.04,634.81 L491.54,632.40 L493.04,630.00 L494.54,627.64 L496.04,625.32 L497.54,623.05 L499.04,620.84 L500.55,618.70 L502.05,616.64 L503.55,614.67 L505.05,612.80 L506.55,611.03 L508.05,609.39 L509.55,607.87 L511.05,606.49 L512.55,605.25 L514.05,604.17 L515.55,603.26 L517.05,602.52 L518.55,601.96 L520.05,601.56 L521.55,601.32 L523.05,601.25 L524.56,601.33 L526.06,601.56 L527.56,601.95 L529.06,602.48 L530.56,603.15 L532.06,603.97 L533.56,604.92 L535.06,606.00 L536.56,607.22 L538.06,608.56 L539.56,610.02 L541.06,611.60 L542.56,613.30 L544.06,615.11 L545.56,617.03 L547.06,619.06 L548.56,621.19 L550.07,623.42 L551.57,625.74 L553.07,628.15 L554.57,630.65 L556.07,633.23 L557.57,635.88 L559.07,638.59 L560.57,641.36 L562.07,644.18 L563.57,647.03 L565.07,649.93 L566.57,652.85 L568.07,655.79 L569.50,658.60" fill="none" stroke="#f20000" stroke-width="3.6" stroke-linejoin="round"/>
<line x1="662" y1="702.0" x2="940" y2="702.0" stroke="#000" stroke-width="2.7" stroke-linecap="round" stroke-dasharray="16.2 8.7"/>
<path d="M662.10,798.88 L663.61,798.67 L665.11,798.46 L666.62,798.25 L668.12,798.03 L669.63,797.78 L671.13,797.50 L672.64,797.18 L674.14,796.80 L675.65,796.37 L677.15,795.87 L678.66,795.29 L680.16,794.62 L681.67,793.85 L683.17,792.98 L684.68,792.00 L686.19,790.90 L687.69,789.70 L689.20,788.40 L690.70,786.99 L692.21,785.48 L693.71,783.88 L695.22,782.18 L696.72,780.39 L698.23,778.51 L699.73,776.55 L701.24,774.50 L702.74,772.37 L704.25,770.16 L705.75,767.88 L707.26,765.51 L708.77,763.06 L710.27,760.53 L711.78,757.91 L713.28,755.20 L714.79,752.39 L716.29,749.49 L717.80,746.50 L719.30,743.41 L720.81,740.21 L722.31,736.92 L723.82,733.51 L725.32,730.00 L726.83,726.38 L728.33,722.65 L729.84,718.80 L731.34,714.84 L732.85,710.76 L734.36,706.57 L735.86,702.29 L737.37,697.97 L738.87,693.64 L740.38,689.31 L741.88,685.04 L743.39,680.84 L744.89,676.75 L746.40,672.80 L747.90,669.02 L749.41,665.44 L750.91,662.08 L752.42,658.92 L753.92,655.93 L755.43,653.10 L756.94,650.39 L758.44,647.79 L759.95,645.27 L761.45,642.81 L762.96,640.38 L764.46,637.98 L765.97,635.58 L767.47,633.19 L768.98,630.81 L770.48,628.45 L771.99,626.10 L773.49,623.77 L775.00,621.46 L776.50,619.16 L778.01,616.89 L779.52,614.64 L781.02,612.42 L782.53,610.22 L784.03,608.05 L785.54,605.91 L787.04,603.83 L788.55,601.84 L790.05,599.96 L791.56,598.23 L793.06,596.67 L794.57,595.32 L796.07,594.18 L797.58,593.28 L799.08,592.63 L800.59,592.26 L802.10,592.18 L803.60,592.38 L805.11,592.85 L806.61,593.56 L808.12,594.51 L809.62,595.67 L811.13,597.04 L812.63,598.58 L814.14,600.29 L815.64,602.13 L817.15,604.09 L818.65,606.15 L820.16,608.28 L821.66,610.48 L823.17,612.72 L824.68,615.00 L826.18,617.34 L827.69,619.72 L829.19,622.15 L830.70,624.63 L832.20,627.16 L833.71,629.73 L835.21,632.35 L836.72,635.03 L838.22,637.75 L839.73,640.52 L841.23,643.34 L842.74,646.21 L844.24,649.13 L845.75,652.11 L847.26,655.13 L848.76,658.20 L850.27,661.32 L851.77,664.48 L853.28,667.66 L854.78,670.88 L856.29,674.11 L857.79,677.35 L859.30,680.60 L860.80,683.84 L862.31,687.08 L863.81,690.30 L865.32,693.50 L866.82,696.67 L868.33,699.80 L869.83,702.89 L871.34,705.93 L872.85,708.91 L874.35,711.83 L875.86,714.69 L877.36,717.46 L878.87,720.16 L880.37,722.78 L881.88,725.33 L883.38,727.82 L884.89,730.24 L886.39,732.62 L887.90,734.95 L889.40,737.23 L890.91,739.48 L892.41,741.69 L893.92,743.88 L895.43,746.04 L896.93,748.19 L898.44,750.33 L899.94,752.46 L901.45,754.59 L902.95,756.73 L904.46,758.87 L905.96,761.03 L907.47,763.21 L908.97,765.41 L910.48,767.65 L911.98,769.92 L913.49,772.23 L914.99,774.59 L916.50,777.00" fill="none" stroke="#000" stroke-width="3.2" stroke-linejoin="round" stroke-linecap="round"/>
<path d="M754.10,655.60 L755.43,653.10 L756.94,650.39 L758.44,647.79 L759.95,645.27 L761.45,642.81 L762.96,640.38 L764.46,637.98 L765.97,635.58 L767.47,633.19 L768.98,630.81 L770.48,628.45 L771.99,626.10 L773.49,623.77 L775.00,621.46 L776.50,619.16 L778.01,616.89 L779.52,614.64 L781.02,612.42 L782.53,610.22 L784.03,608.05 L785.54,605.91 L787.04,603.83 L788.55,601.84 L790.05,599.96 L791.56,598.23 L793.06,596.67 L794.57,595.32 L796.07,594.18 L797.58,593.28 L799.08,592.63 L800.59,592.26 L802.10,592.18 L803.60,592.38 L805.11,592.85 L806.61,593.56 L808.12,594.51 L809.62,595.67 L811.13,597.04 L812.63,598.58 L814.14,600.29 L815.64,602.13 L817.15,604.09 L818.65,606.15 L820.16,608.28 L821.66,610.48 L823.17,612.72 L824.68,615.00 L826.18,617.34 L827.69,619.72 L829.19,622.15 L830.70,624.63 L832.20,627.16 L833.71,629.73 L835.21,632.35 L836.72,635.03 L838.22,637.75 L839.73,640.52 L841.23,643.34 L842.74,646.21 L844.24,649.13 L845.75,652.11 L847.26,655.13 L847.50,655.63" fill="none" stroke="#f20000" stroke-width="3.6" stroke-linejoin="round"/>
<line x1="940" y1="713.2" x2="1218" y2="713.2" stroke="#000" stroke-width="2.7" stroke-linecap="round" stroke-dasharray="16.2 8.7"/>
<path d="M940.10,807.03 L941.60,807.66 L943.11,808.25 L944.61,808.78 L946.12,809.23 L947.62,809.60 L949.13,809.87 L950.63,810.02 L952.14,810.05 L953.64,809.94 L955.15,809.67 L956.65,809.24 L958.16,808.62 L959.66,807.81 L961.17,806.80 L962.67,805.57 L964.18,804.13 L965.68,802.51 L967.19,800.72 L968.69,798.76 L970.19,796.66 L971.70,794.42 L973.20,792.06 L974.71,789.58 L976.21,787.02 L977.72,784.37 L979.22,781.65 L980.73,778.88 L982.23,776.06 L983.74,773.21 L985.24,770.32 L986.75,767.40 L988.25,764.45 L989.76,761.46 L991.26,758.43 L992.77,755.38 L994.27,752.29 L995.78,749.17 L997.28,746.01 L998.78,742.82 L1000.29,739.61 L1001.79,736.36 L1003.30,733.07 L1004.80,729.76 L1006.31,726.42 L1007.81,723.05 L1009.32,719.65 L1010.82,716.22 L1012.33,712.78 L1013.83,709.34 L1015.34,705.89 L1016.84,702.46 L1018.35,699.04 L1019.85,695.66 L1021.36,692.30 L1022.86,689.00 L1024.37,685.75 L1025.87,682.56 L1027.37,679.44 L1028.88,676.39 L1030.38,673.41 L1031.89,670.50 L1033.39,667.64 L1034.90,664.82 L1036.40,662.05 L1037.91,659.32 L1039.41,656.61 L1040.92,653.92 L1042.42,651.24 L1043.93,648.57 L1045.43,645.91 L1046.94,643.23 L1048.44,640.57 L1049.95,637.91 L1051.45,635.29 L1052.96,632.70 L1054.46,630.17 L1055.96,627.70 L1057.47,625.31 L1058.97,623.01 L1060.48,620.81 L1061.98,618.72 L1063.49,616.76 L1064.99,614.94 L1066.50,613.27 L1068.00,611.76 L1069.51,610.42 L1071.01,609.28 L1072.52,608.33 L1074.02,607.59 L1075.53,607.06 L1077.03,606.73 L1078.54,606.60 L1080.04,606.66 L1081.54,606.92 L1083.05,607.35 L1084.55,607.97 L1086.06,608.77 L1087.56,609.73 L1089.07,610.87 L1090.57,612.16 L1092.08,613.61 L1093.58,615.19 L1095.09,616.90 L1096.59,618.73 L1098.10,620.66 L1099.60,622.69 L1101.11,624.79 L1102.61,626.96 L1104.12,629.19 L1105.62,631.47 L1107.13,633.78 L1108.63,636.12 L1110.13,638.48 L1111.64,640.86 L1113.14,643.27 L1114.65,645.71 L1116.15,648.18 L1117.66,650.70 L1119.16,653.26 L1120.67,655.86 L1122.17,658.52 L1123.68,661.23 L1125.18,663.99 L1126.69,666.82 L1128.19,669.71 L1129.70,672.67 L1131.20,675.70 L1132.71,678.81 L1134.21,681.99 L1135.72,685.26 L1137.22,688.60 L1138.72,691.99 L1140.23,695.44 L1141.73,698.93 L1143.24,702.45 L1144.74,705.98 L1146.25,709.53 L1147.75,713.07 L1149.26,716.60 L1150.76,720.10 L1152.27,723.58 L1153.77,727.01 L1155.28,730.38 L1156.78,733.69 L1158.29,736.93 L1159.79,740.07 L1161.30,743.13 L1162.80,746.07 L1164.31,748.90 L1165.81,751.61 L1167.31,754.20 L1168.82,756.68 L1170.32,759.06 L1171.83,761.35 L1173.33,763.56 L1174.84,765.70 L1176.34,767.77 L1177.85,769.79 L1179.35,771.77 L1180.86,773.71 L1182.36,775.62 L1183.87,777.52 L1185.37,779.40 L1186.88,781.29 L1188.38,783.19 L1189.89,785.10 L1191.39,787.04 L1192.90,789.02 L1194.40,791.04" fill="none" stroke="#000" stroke-width="3.2" stroke-linejoin="round" stroke-linecap="round"/>
<path d="M1054.90,629.44 L1055.96,627.70 L1057.47,625.31 L1058.97,623.01 L1060.48,620.81 L1061.98,618.72 L1063.49,616.76 L1064.99,614.94 L1066.50,613.27 L1068.00,611.76 L1069.51,610.42 L1071.01,609.28 L1072.52,608.33 L1074.02,607.59 L1075.53,607.06 L1077.03,606.73 L1078.54,606.60 L1080.04,606.66 L1081.54,606.92 L1083.05,607.35 L1084.55,607.97 L1086.06,608.77 L1087.56,609.73 L1089.07,610.87 L1090.57,612.16 L1092.08,613.61 L1093.58,615.19 L1095.09,616.90 L1096.59,618.73 L1098.10,620.66 L1099.60,622.69 L1101.11,624.79 L1102.61,626.96 L1104.12,629.19 L1105.62,631.47 L1107.13,633.78 L1108.63,636.12 L1110.13,638.48 L1111.64,640.86 L1113.14,643.27 L1114.65,645.71 L1116.15,648.18 L1117.66,650.70 L1119.16,653.26 L1120.67,655.86 L1122.17,658.52 L1123.68,661.23 L1125.18,663.99 L1125.60,664.77" fill="none" stroke="#f20000" stroke-width="3.6" stroke-linejoin="round"/>
<line x1="1218" y1="684.8" x2="1495" y2="684.8" stroke="#000" stroke-width="2.7" stroke-linecap="round" stroke-dasharray="16.2 8.7"/>
<path d="M1217.60,759.42 L1219.11,759.89 L1220.61,760.28 L1222.12,760.58 L1223.62,760.80 L1225.13,760.94 L1226.64,760.98 L1228.14,760.95 L1229.65,760.83 L1231.15,760.63 L1232.66,760.34 L1234.17,759.96 L1235.67,759.51 L1237.18,758.97 L1238.68,758.35 L1240.19,757.64 L1241.69,756.85 L1243.20,755.98 L1244.71,755.02 L1246.21,753.98 L1247.72,752.86 L1249.22,751.66 L1250.73,750.37 L1252.24,749.01 L1253.74,747.56 L1255.25,746.02 L1256.75,744.41 L1258.26,742.72 L1259.77,740.94 L1261.27,739.08 L1262.78,737.14 L1264.28,735.12 L1265.79,733.02 L1267.30,730.84 L1268.80,728.57 L1270.31,726.23 L1271.81,723.81 L1273.32,721.30 L1274.82,718.72 L1276.33,716.06 L1277.84,713.31 L1279.34,710.49 L1280.85,707.59 L1282.35,704.60 L1283.86,701.54 L1285.37,698.40 L1286.87,695.18 L1288.38,691.89 L1289.88,688.55 L1291.39,685.19 L1292.90,681.82 L1294.40,678.47 L1295.91,675.16 L1297.41,671.91 L1298.92,668.74 L1300.43,665.68 L1301.93,662.72 L1303.44,659.85 L1304.94,657.09 L1306.45,654.44 L1307.96,651.88 L1309.46,649.43 L1310.97,647.08 L1312.47,644.82 L1313.98,642.62 L1315.48,640.48 L1316.99,638.38 L1318.50,636.31 L1320.00,634.26 L1321.51,632.22 L1323.01,630.17 L1324.52,628.14 L1326.03,626.12 L1327.53,624.12 L1329.04,622.14 L1330.54,620.19 L1332.05,618.28 L1333.56,616.41 L1335.06,614.58 L1336.57,612.80 L1338.07,611.08 L1339.58,609.42 L1341.09,607.82 L1342.59,606.30 L1344.10,604.85 L1345.60,603.48 L1347.11,602.20 L1348.61,601.01 L1350.12,599.92 L1351.63,598.94 L1353.13,598.07 L1354.64,597.34 L1356.14,596.76 L1357.65,596.35 L1359.16,596.11 L1360.66,596.07 L1362.17,596.23 L1363.67,596.57 L1365.18,597.10 L1366.69,597.81 L1368.19,598.68 L1369.70,599.70 L1371.20,600.87 L1372.71,602.17 L1374.22,603.61 L1375.72,605.16 L1377.23,606.82 L1378.73,608.57 L1380.24,610.42 L1381.74,612.35 L1383.25,614.35 L1384.76,616.42 L1386.26,618.55 L1387.77,620.73 L1389.27,622.95 L1390.78,625.20 L1392.29,627.48 L1393.79,629.78 L1395.30,632.09 L1396.80,634.41 L1398.31,636.76 L1399.82,639.15 L1401.32,641.59 L1402.83,644.10 L1404.33,646.69 L1405.84,649.37 L1407.35,652.12 L1408.85,654.94 L1410.36,657.81 L1411.86,660.73 L1413.37,663.68 L1414.88,666.66 L1416.38,669.65 L1417.89,672.65 L1419.39,675.65 L1420.90,678.64 L1422.40,681.60 L1423.91,684.53 L1425.42,687.43 L1426.92,690.27 L1428.43,693.05 L1429.93,695.76 L1431.44,698.39 L1432.95,700.93 L1434.45,703.38 L1435.96,705.75 L1437.46,708.04 L1438.97,710.26 L1440.48,712.40 L1441.98,714.48 L1443.49,716.49 L1444.99,718.45 L1446.50,720.36 L1448.01,722.22 L1449.51,724.03 L1451.02,725.81 L1452.52,727.55 L1454.03,729.26 L1455.53,730.95 L1457.04,732.61 L1458.55,734.26 L1460.05,735.90 L1461.56,737.53 L1463.06,739.16 L1464.57,740.79 L1466.08,742.42 L1467.58,744.07 L1469.09,745.73 L1470.59,747.41 L1472.10,749.12" fill="none" stroke="#000" stroke-width="3.2" stroke-linejoin="round" stroke-linecap="round"/>
<path d="M1332.30,617.97 L1333.56,616.41 L1335.06,614.58 L1336.57,612.80 L1338.07,611.08 L1339.58,609.42 L1341.09,607.82 L1342.59,606.30 L1344.10,604.85 L1345.60,603.48 L1347.11,602.20 L1348.61,601.01 L1350.12,599.92 L1351.63,598.94 L1353.13,598.07 L1354.64,597.34 L1356.14,596.76 L1357.65,596.35 L1359.16,596.11 L1360.66,596.07 L1362.17,596.23 L1363.67,596.57 L1365.18,597.10 L1366.69,597.81 L1368.19,598.68 L1369.70,599.70 L1371.20,600.87 L1372.71,602.17 L1374.22,603.61 L1375.72,605.16 L1377.23,606.82 L1378.73,608.57 L1380.24,610.42 L1381.74,612.35 L1383.25,614.35 L1384.76,616.42 L1386.26,618.55 L1387.77,620.73 L1389.27,622.95 L1390.78,625.20 L1392.29,627.48 L1393.79,629.78 L1395.30,632.09 L1396.80,634.41 L1398.31,636.76 L1399.82,639.15 L1401.32,641.59 L1402.83,644.10 L1403.30,644.90" fill="none" stroke="#f20000" stroke-width="3.6" stroke-linejoin="round"/>
<g stroke="#000" fill="none">
<line x1="105" y1="570" x2="1496" y2="570" stroke-width="2"/>
<line x1="105" y1="848" x2="1496" y2="848" stroke-width="2"/>
<line x1="106" y1="569" x2="106" y2="849" stroke-width="2"/>
<line x1="384" y1="569" x2="384" y2="849" stroke-width="2"/>
<line x1="662" y1="569" x2="662" y2="849" stroke-width="2"/>
<line x1="940" y1="569" x2="940" y2="849" stroke-width="2"/>
<line x1="1218" y1="569" x2="1218" y2="849" stroke-width="2"/>
<line x1="1495" y1="569" x2="1495" y2="849" stroke-width="2"/>
<line x1="100" y1="808.4" x2="106" y2="808.4" stroke-width="2"/>
<line x1="100" y1="729.0" x2="106" y2="729.0" stroke-width="2"/>
<line x1="100" y1="649.6" x2="106" y2="649.6" stroke-width="2"/>
<line x1="100" y1="570.2" x2="106" y2="570.2" stroke-width="2"/>
<line x1="129.2" y1="848" x2="129.2" y2="853" stroke-width="1.8"/>
<line x1="175.5" y1="848" x2="175.5" y2="853" stroke-width="1.8"/>
<line x1="221.9" y1="848" x2="221.9" y2="853" stroke-width="1.8"/>
<line x1="268.2" y1="848" x2="268.2" y2="853" stroke-width="1.8"/>
<line x1="314.5" y1="848" x2="314.5" y2="853" stroke-width="1.8"/>
<line x1="360.9" y1="848" x2="360.9" y2="853" stroke-width="1.8"/>
<line x1="407.2" y1="848" x2="407.2" y2="853" stroke-width="1.8"/>
<line x1="453.5" y1="848" x2="453.5" y2="853" stroke-width="1.8"/>
<line x1="499.9" y1="848" x2="499.9" y2="853" stroke-width="1.8"/>
<line x1="546.2" y1="848" x2="546.2" y2="853" stroke-width="1.8"/>
<line x1="592.5" y1="848" x2="592.5" y2="853" stroke-width="1.8"/>
<line x1="638.9" y1="848" x2="638.9" y2="853" stroke-width="1.8"/>
<line x1="685.2" y1="848" x2="685.2" y2="853" stroke-width="1.8"/>
<line x1="731.5" y1="848" x2="731.5" y2="853" stroke-width="1.8"/>
<line x1="777.9" y1="848" x2="777.9" y2="853" stroke-width="1.8"/>
<line x1="824.2" y1="848" x2="824.2" y2="853" stroke-width="1.8"/>
<line x1="870.5" y1="848" x2="870.5" y2="853" stroke-width="1.8"/>
<line x1="916.9" y1="848" x2="916.9" y2="853" stroke-width="1.8"/>
<line x1="963.2" y1="848" x2="963.2" y2="853" stroke-width="1.8"/>
<line x1="1009.5" y1="848" x2="1009.5" y2="853" stroke-width="1.8"/>
<line x1="1055.8" y1="848" x2="1055.8" y2="853" stroke-width="1.8"/>
<line x1="1102.2" y1="848" x2="1102.2" y2="853" stroke-width="1.8"/>
<line x1="1148.5" y1="848" x2="1148.5" y2="853" stroke-width="1.8"/>
<line x1="1194.9" y1="848" x2="1194.9" y2="853" stroke-width="1.8"/>
<line x1="1241.2" y1="848" x2="1241.2" y2="853" stroke-width="1.8"/>
<line x1="1287.5" y1="848" x2="1287.5" y2="853" stroke-width="1.8"/>
<line x1="1333.8" y1="848" x2="1333.8" y2="853" stroke-width="1.8"/>
<line x1="1380.2" y1="848" x2="1380.2" y2="853" stroke-width="1.8"/>
<line x1="1426.5" y1="848" x2="1426.5" y2="853" stroke-width="1.8"/>
<line x1="1472.9" y1="848" x2="1472.9" y2="853" stroke-width="1.8"/>
</g>
<text x="129" y="617" font-size="40">b</text>
<text x="86.2" y="818.8" font-size="31" text-anchor="end">-10</text>
<text x="86.2" y="739.4" font-size="31" text-anchor="end">0</text>
<text x="86.2" y="660.0" font-size="31" text-anchor="end">10</text>
<text x="86.2" y="580.6" font-size="31" text-anchor="end">20</text>
<text x="122.4" y="887.3" font-size="26" text-anchor="middle">2</text>
<text x="168.7" y="887.3" font-size="26" text-anchor="middle">4</text>
<text x="215.1" y="887.3" font-size="26" text-anchor="middle">6</text>
<text x="261.4" y="887.3" font-size="26" text-anchor="middle">8</text>
<text x="307.7" y="887.3" font-size="26" text-anchor="middle">10</text>
<text x="354.1" y="887.3" font-size="26" text-anchor="middle">12</text>
<text x="406.9" y="887.3" font-size="26" text-anchor="middle">2</text>
<text x="453.2" y="887.3" font-size="26" text-anchor="middle">4</text>
<text x="499.6" y="887.3" font-size="26" text-anchor="middle">6</text>
<text x="545.9" y="887.3" font-size="26" text-anchor="middle">8</text>
<text x="592.2" y="887.3" font-size="26" text-anchor="middle">10</text>
<text x="638.6" y="887.3" font-size="26" text-anchor="middle">12</text>
<text x="684.9" y="887.3" font-size="26" text-anchor="middle">2</text>
<text x="731.2" y="887.3" font-size="26" text-anchor="middle">4</text>
<text x="777.6" y="887.3" font-size="26" text-anchor="middle">6</text>
<text x="823.9" y="887.3" font-size="26" text-anchor="middle">8</text>
<text x="870.2" y="887.3" font-size="26" text-anchor="middle">10</text>
<text x="916.6" y="887.3" font-size="26" text-anchor="middle">12</text>
<text x="962.9" y="887.3" font-size="26" text-anchor="middle">2</text>
<text x="1009.2" y="887.3" font-size="26" text-anchor="middle">4</text>
<text x="1055.5" y="887.3" font-size="26" text-anchor="middle">6</text>
<text x="1101.9" y="887.3" font-size="26" text-anchor="middle">8</text>
<text x="1148.2" y="887.3" font-size="26" text-anchor="middle">10</text>
<text x="1194.6" y="887.3" font-size="26" text-anchor="middle">12</text>
<text x="1240.9" y="887.3" font-size="26" text-anchor="middle">2</text>
<text x="1287.2" y="887.3" font-size="26" text-anchor="middle">4</text>
<text x="1333.5" y="887.3" font-size="26" text-anchor="middle">6</text>
<text x="1379.9" y="887.3" font-size="26" text-anchor="middle">8</text>
<text x="1426.2" y="887.3" font-size="26" text-anchor="middle">10</text>
<text x="1472.6" y="887.3" font-size="26" text-anchor="middle">12</text>
<text x="792.4" y="951.6" font-size="28.5" text-anchor="middle">Month of a year</text>
<text transform="translate(30.3,879) rotate(-90)" font-size="31.1" textLength="341" lengthAdjust="spacing">Air Temperature, Ta (<tspan font-size="21.8" dy="-15.4">o</tspan><tspan dy="15.4">C)</tspan></text>
<rect x="1158" y="945" width="58" height="8" fill="#c0c0c0" stroke="#000" stroke-width="2" stroke-linejoin="round"/>
<rect x="1158" y="972" width="58" height="18" fill="#fff" stroke="#c0c0c0" stroke-width="2"/>
<line x1="1158.3" y1="1012.9" x2="1215.9" y2="1012.9" stroke="#000" stroke-width="2.6" stroke-linecap="round"/>
<line x1="1156.8" y1="1043.2" x2="1214.7" y2="1043.2" stroke="#000" stroke-width="2.6" stroke-linecap="round" stroke-dasharray="16.1 8.5"/>
<line x1="1157.1" y1="1075.2" x2="1214" y2="1075.2" stroke="#f20000" stroke-width="4" stroke-linecap="round"/>
<text x="1229.3" y="957.7" font-size="25.8">Measured period</text>
<text x="1229.3" y="989.7" font-size="25.8">Unmeasured period</text>
<text x="1229.3" y="1021.1" font-size="25.8">CDF of Ta</text>
<text x="1229.3" y="1051.8" font-size="25.8">Annual Mean of Ta</text>
<text x="1229.3" y="1083.5" font-size="25.8">Measured season</text>
</svg></body></html>
